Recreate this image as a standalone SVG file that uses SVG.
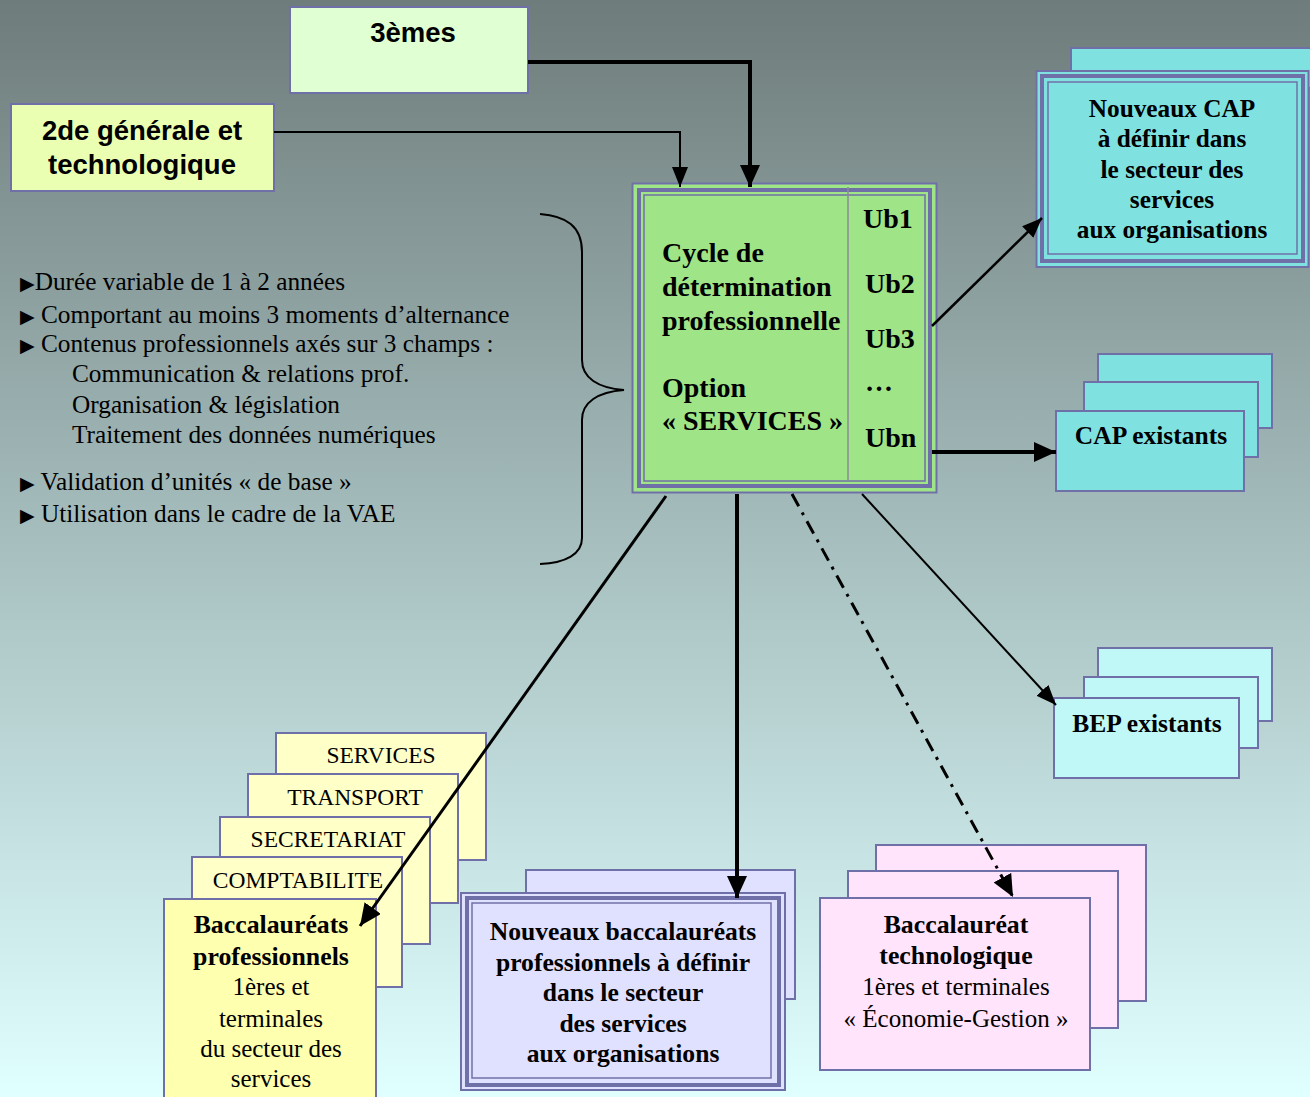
<svg xmlns="http://www.w3.org/2000/svg" width="1310" height="1097" viewBox="0 0 1310 1097">
<defs>
<linearGradient id="bg" x1="0" y1="0" x2="0" y2="1">
<stop offset="0" stop-color="#6e7c7b"/>
<stop offset="0.5" stop-color="#a7bfbf"/>
<stop offset="1" stop-color="#e0ffff"/>
</linearGradient>
<marker id="ah" markerUnits="userSpaceOnUse" markerWidth="24" markerHeight="20" refX="22" refY="10" orient="auto" viewBox="0 0 24 20">
<path d="M0,0 L22,10 L0,20 z" fill="#000"/>
</marker>
<marker id="ahs" markerUnits="userSpaceOnUse" markerWidth="22" markerHeight="16" refX="20" refY="8" orient="auto" viewBox="0 0 22 16">
<path d="M0,0 L20,8 L0,16 z" fill="#000"/>
</marker>
</defs>
<style>
.b{stroke:#7070a8;stroke-width:2}
.bt{fill:none;stroke:#7070a8;stroke-width:4}
.bn{fill:none;stroke:#7070a8;stroke-width:1.5}
.sans{font-family:"Liberation Sans",Arial,sans-serif;font-weight:bold;font-size:27.5px;fill:#000}
.ser{font-family:"Liberation Serif","Times New Roman",serif;fill:#000}
.bold{font-weight:bold}
.c{text-anchor:middle}
.ln{fill:none;stroke:#000}
.tri{font-family:"DejaVu Sans",sans-serif;font-size:19px}
</style>
<rect x="0" y="0" width="1310" height="1097" fill="url(#bg)"/>

<g id="n3emes">
<rect class="b" x="290" y="7" width="238" height="86" fill="#e0ffd2" stroke-width="3"/>
<text class="sans c" x="413" y="42">3èmes</text>
</g>

<g id="n2de">
<rect class="b" x="11" y="104" width="263" height="87" fill="#eaffb2" stroke-width="3"/>
<text class="sans c" x="142" y="140">2de générale et</text>
<text class="sans c" x="142" y="174">technologique</text>
</g>

<g id="central">
<rect class="b" x="632.5" y="183.5" width="304" height="309" fill="#a0e488"/>
<rect class="bt" x="639" y="190" width="291" height="296"/>
<rect class="bn" x="644" y="195" width="281" height="286"/>
<line x1="848" y1="187" x2="848" y2="481" stroke="#8a8a9a" stroke-width="1.5"/>
<g class="ser bold" font-size="28">
<text x="662" y="262">Cycle de</text>
<text x="662" y="296">détermination</text>
<text x="662" y="330">professionnelle</text>
<text x="662" y="397">Option</text>
<text x="662" y="430">« SERVICES »</text>
<text x="863" y="228">Ub1</text>
<text x="865" y="293">Ub2</text>
<text x="865" y="348">Ub3</text>
<text x="865" y="391">…</text>
<text x="865" y="447">Ubn</text>
</g>
</g>

<g id="nouveauxCAP">
<rect class="b" x="1071" y="48" width="245" height="40" fill="#80e2e0"/>
<rect class="b" x="1036.5" y="71" width="272" height="196" fill="#80e2e0"/>
<rect class="bt" x="1042" y="76" width="261" height="185"/>
<rect class="bn" x="1048" y="82" width="249" height="172"/>
<g class="ser bold c" font-size="25.3">
<text x="1172" y="117">Nouveaux CAP</text>
<text x="1172" y="147">à définir dans</text>
<text x="1172" y="178">le secteur des</text>
<text x="1172" y="208">services</text>
<text x="1172" y="238">aux organisations</text>
</g>
</g>

<g id="capExistants">
<rect class="b" x="1098" y="354" width="174" height="74" fill="#80e2e0"/>
<rect class="b" x="1084" y="382" width="174" height="75" fill="#80e2e0"/>
<rect class="b" x="1056" y="411" width="188" height="80" fill="#80e2e0"/>
<text class="ser bold c" font-size="25.5" x="1151" y="444">CAP existants</text>
</g>

<g id="bepExistants">
<rect class="b" x="1098" y="648" width="174" height="73" fill="#c0f8f8"/>
<rect class="b" x="1084" y="677" width="174" height="71" fill="#c0f8f8"/>
<rect class="b" x="1054" y="698" width="185" height="80" fill="#c0f8f8"/>
<text class="ser bold c" font-size="25.5" x="1147" y="732">BEP existants</text>
</g>

<g id="bullets" class="ser" font-size="25.3">
<text x="20" y="290"><tspan class="tri">▶</tspan>Durée variable de 1 à 2 années</text>
<text x="20" y="323"><tspan class="tri">▶</tspan> Comportant au moins 3 moments d’alternance</text>
<text x="20" y="352"><tspan class="tri">▶</tspan> Contenus professionnels axés sur 3 champs :</text>
<text x="72" y="382">Communication &amp; relations prof.</text>
<text x="72" y="413">Organisation  &amp; législation</text>
<text x="72" y="443">Traitement des données numériques</text>
<text x="20" y="490"><tspan class="tri">▶</tspan> Validation d’unités « de base »</text>
<text x="20" y="522"><tspan class="tri">▶</tspan> Utilisation dans le cadre de la VAE</text>
</g>

<g id="bacPro">
<rect class="b" x="276" y="733" width="210" height="127" fill="#ffffc8"/>
<rect class="b" x="248" y="774" width="210" height="129" fill="#ffffc8"/>
<rect class="b" x="220" y="817" width="210" height="127" fill="#ffffc8"/>
<rect class="b" x="192" y="857" width="210" height="130" fill="#ffffc8"/>
<rect class="b" x="164" y="899" width="212" height="210" fill="#ffffb0"/>
<g class="ser c" font-size="23.5">
<text x="381" y="763">SERVICES</text>
<text x="355" y="805">TRANSPORT</text>
<text x="328" y="847">SECRETARIAT</text>
<text x="298" y="888">COMPTABILITE</text>
</g>
<g class="ser c" font-size="25">
<text class="bold" x="271" y="933" font-size="25.8">Baccalauréats</text>
<text class="bold" x="271" y="965" font-size="25.8">professionnels</text>
<text x="271" y="995">1ères et</text>
<text x="271" y="1027">terminales</text>
<text x="271" y="1057">du secteur des</text>
<text x="271" y="1087">services</text>
</g>
</g>

<g id="nouveauxBac">
<rect class="b" x="526" y="870" width="269" height="129" fill="#e0e0ff"/>
<rect class="b" x="461" y="893" width="324" height="197" fill="#e0e0ff"/>
<rect class="bt" x="467" y="898" width="312" height="187"/>
<rect class="bn" x="472" y="903" width="299" height="175"/>
<g class="ser bold c" font-size="25.6">
<text x="623" y="940">Nouveaux baccalauréats</text>
<text x="623" y="971">professionnels à définir</text>
<text x="623" y="1001">dans le secteur</text>
<text x="623" y="1032">des services</text>
<text x="623" y="1062">aux organisations</text>
</g>
</g>

<g id="bacTechno">
<rect class="b" x="876" y="845" width="270" height="156" fill="#ffe4fc"/>
<rect class="b" x="848" y="871" width="270" height="157" fill="#ffe4fc"/>
<rect class="b" x="820" y="898" width="270" height="172" fill="#ffe4fc"/>
<g class="ser c" font-size="25">
<text class="bold" x="956" y="933" font-size="25.8">Baccalauréat</text>
<text class="bold" x="956" y="964" font-size="25.8">technologique</text>
<text x="956" y="995">1ères et terminales</text>
<text x="956" y="1027">« Économie-Gestion »</text>
</g>
</g>

<g id="connectors">
<polyline class="ln" points="528,62 750,62 750,187" stroke-width="4" marker-end="url(#ah)"/>
<polyline class="ln" points="274,132 680,132 680,187" stroke-width="2" marker-end="url(#ahs)"/>
<line class="ln" x1="932" y1="326" x2="1042" y2="218" stroke-width="2.5" marker-end="url(#ahs)"/>
<line class="ln" x1="932" y1="452" x2="1056" y2="452" stroke-width="4" marker-end="url(#ah)"/>
<line class="ln" x1="862" y1="494" x2="1056" y2="705" stroke-width="2" marker-end="url(#ahs)"/>
<line class="ln" x1="792" y1="494" x2="1013" y2="897" stroke-width="3" stroke-dasharray="14 7 3 7" marker-end="url(#ah)"/>
<line class="ln" x1="737" y1="494" x2="737" y2="898" stroke-width="4" marker-end="url(#ah)"/>
<line class="ln" x1="666" y1="496" x2="360" y2="926" stroke-width="3" marker-end="url(#ah)"/>
<path class="ln" stroke-width="2" d="M540,214 C566,216 582,226 582,252 L582,360 C582,378 598,388 624,390 C598,392 582,402 582,420 L582,538 C582,554 566,563 540,564"/>
</g>
</svg>
